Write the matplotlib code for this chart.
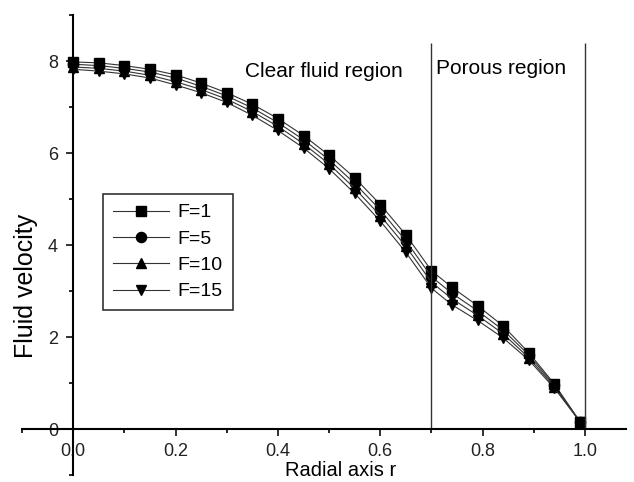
import matplotlib
matplotlib.use("Agg")
import matplotlib.pyplot as plt
from matplotlib.ticker import MultipleLocator, FormatStrFormatter

plt.rcParams['font.family'] = ['Liberation Sans', 'DejaVu Sans']

# radial positions (clear fluid region up to 0.7, porous region after)
r = [0.0, 0.05, 0.1, 0.15, 0.2, 0.25, 0.3, 0.35, 0.4, 0.45, 0.5, 0.55, 0.6, 0.65, 0.7,
     0.74, 0.79, 0.84, 0.89, 0.94, 0.99]

u_F1 = [7.98, 7.96, 7.90, 7.82, 7.70, 7.52, 7.31, 7.06, 6.75, 6.38, 5.95, 5.46, 4.88, 4.22, 3.44,
        3.08, 2.68, 2.24, 1.66, 0.98, 0.16]
u_F5 = [7.93, 7.90, 7.84, 7.76, 7.63, 7.45, 7.24, 6.98, 6.66, 6.29, 5.85, 5.34, 4.76, 4.09, 3.31,
        2.95, 2.57, 2.15, 1.61, 0.95, 0.16]
u_F10 = [7.87, 7.84, 7.78, 7.69, 7.55, 7.38, 7.17, 6.90, 6.58, 6.20, 5.76, 5.23, 4.64, 3.97, 3.19,
         2.83, 2.47, 2.07, 1.55, 0.92, 0.16]
u_F15 = [7.82, 7.78, 7.72, 7.63, 7.48, 7.31, 7.10, 6.82, 6.49, 6.11, 5.66, 5.12, 4.52, 3.84, 3.06,
         2.70, 2.36, 1.98, 1.50, 0.89, 0.16]

labels = ['F=1', 'F=5', 'F=10', 'F=15']
markers = ['s', 'o', '^', 'v']
series = [u_F1, u_F5, u_F10, u_F15]

fig = plt.figure(figsize=(6.34, 4.82), dpi=100)
ax = fig.add_axes([22 / 634, 7 / 482, 604 / 634, 460 / 482])

for u, m, lab in zip(series, markers, labels):
    ax.plot(r, u, '-', color='#333333', lw=0.8, marker=m, ms=7.3,
            mfc='black', mec='black', label=lab)

# region boundaries
ax.vlines([0.7, 1.0], 0, 8.4, color='#333333', lw=1.0)
ax.text(0.336, 7.78, 'Clear fluid region', fontsize=15, ha='left', va='center')
ax.text(0.708, 7.84, 'Porous region', fontsize=15, ha='left', va='center')

ax.set_xlim(-0.1, 1.08)
ax.set_ylim(-1, 9)

# origin-style crossing axes
ax.spines['left'].set_position(('data', 0))
ax.spines['bottom'].set_position(('data', 0))
ax.spines['top'].set_visible(False)
ax.spines['right'].set_visible(False)
ax.spines['left'].set_linewidth(1.5)
ax.spines['bottom'].set_linewidth(1.5)

ax.xaxis.set_minor_locator(MultipleLocator(0.1))
ax.xaxis.set_major_formatter(FormatStrFormatter('%.1f'))
ax.yaxis.set_minor_locator(MultipleLocator(1))
ax.set_xticks([0, 0.2, 0.4, 0.6, 0.8, 1.0])
ax.set_yticks([0, 2, 4, 6, 8])
ax.tick_params(which='major', direction='out', length=5, width=1.3, labelsize=13, colors='#222222')
ax.tick_params(which='minor', direction='out', length=3, width=1.2)
ax.tick_params(axis='x', pad=5)
ax.tick_params(axis='y', pad=6)

ax.set_xlabel('Radial axis r', fontsize=14.5)
ax.xaxis.set_label_coords(0.527, 0.03)
ax.set_ylabel('Fluid velocity', fontsize=18)
ax.yaxis.set_label_coords(0.027, 0.41)

leg = ax.legend(loc='upper left', bbox_to_anchor=(103 / 634, 1 - 194 / 482),
                bbox_transform=fig.transFigure, borderaxespad=0, fontsize=14,
                handlelength=2.9, handletextpad=0.45, labelspacing=0.45,
                borderpad=0.5, fancybox=False, edgecolor='#333333', framealpha=1)
leg.get_frame().set_linewidth(1.2)

fig.savefig('out.png', dpi=100)
